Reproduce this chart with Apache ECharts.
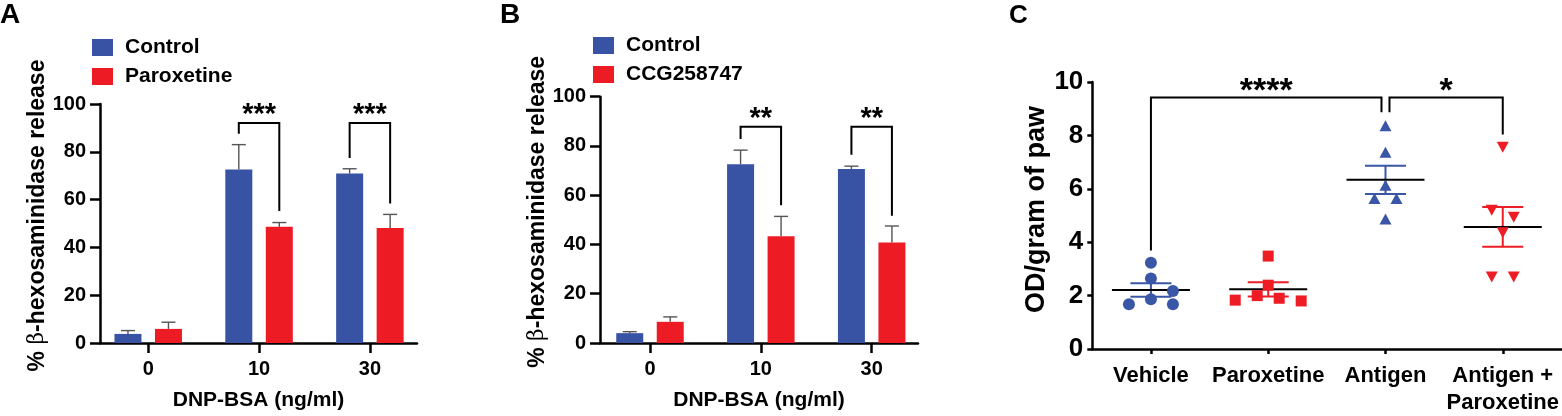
<!DOCTYPE html>
<html>
<head>
<meta charset="utf-8">
<script src="https://cdn.jsdelivr.net/npm/echarts@6/dist/echarts.min.js"></script>
<style>html,body{margin:0;padding:0;background:#fff}#c{width:1562px;height:416px}</style>
</head>
<body>
<div id="c"></div>
<script>
// ================= DATA =================
const doseCategories = ['0', '10', '30'];
const panelAControl = [3.8, 72.6, 70.9];
const panelAControlErr = [1.4, 10.4, 2.0];
const panelAParoxetine = [5.9, 48.6, 48.1];
const panelAParoxetineErr = [2.8, 1.8, 5.7];
const panelBControl = [4.0, 72.6, 70.6];
const panelBControlErr = [0.6, 5.7, 1.2];
const panelBCCG = [8.6, 43.3, 40.8];
const panelBCCGErr = [2.0, 8.1, 6.7];
// significance brackets: [dose index, control-end value, top value, treated-end value, label]
const panelABrackets = [[1, 87.6, 92.1, 55.2, '***'], [2, 77.4, 92.1, 58.4, '***']];
const panelBBrackets = [[1, 82.8, 87.8, 55.9, '**'], [2, 76.4, 87.8, 51.7, '**']];

const groupCategories = ['Vehicle', 'Paroxetine', 'Antigen', 'Antigen +\nParoxetine'];
const vehiclePoints = [3.23, 2.64, 2.17, 1.86, 1.68, 1.68];
const paroxetinePoints = [3.48, 2.39, 2.00, 1.90, 1.83, 1.80];
const antigenPoints = [8.36, 7.37, 6.13, 5.64, 5.64, 4.87];
const antigenParoxetinePoints = [7.56, 5.20, 4.93, 4.35, 2.70, 2.70];
// brackets C: [from group, from-end value, to group, to-end value, top value, label]
const panelCBrackets = [[0, 3.69, 2, 8.87, 9.42, '****'], [2, 8.87, 3, 8.03, 9.42, '*']];

// ================= STYLE / LAYOUT =================
const FONT = 'Liberation Sans, Arial, Helvetica, sans-serif';
const BLUE = '#3953A4', RED = '#ED1C24';
const BLUE_C = '#3A56A6', RED_C = '#EE1D25';
const BAR_W = 27, BAR_GAP = 13.5, BAR_OFFSET = (BAR_W + BAR_GAP) / 2;
const ERR_COLOR = '#555';
const AXIS_W = 2.5;

const gridA = {left: 100, top: 104, width: 317, height: 244.7};
const gridB = {left: 600, top: 96.7, width: 318, height: 251.6};
const gridC = {left: 1092.3, top: 82, width: 469.3, height: 269};
const C_PX_PER_UNIT = gridC.height / 10;
const C_BAND_PX = gridC.width / groupCategories.length;
const C_SLOT_PX = 22;

// ================= HELPERS =================
function meanSem(a) {
  const n = a.length;
  const m = a.reduce((s, v) => s + v, 0) / n;
  const sd = Math.sqrt(a.reduce((s, v) => s + (v - m) * (v - m), 0) / (n - 1));
  return [m, sd / Math.sqrt(n)];
}

// GraphPad-like horizontal spreading of overlapping points (beeswarm)
function swarmSlots(values) {
  const rowTol = 8, minDist = 12;
  const idx = values.map((v, i) => i).sort((a, b) => values[b] - values[a]);
  const ypx = values.map(v => -v * C_PX_PER_UNIT);
  const clusters = [];
  let cur = [idx[0]];
  for (let k = 1; k < idx.length; k++) {
    if (Math.abs(ypx[idx[k]] - ypx[idx[k - 1]]) < rowTol) cur.push(idx[k]);
    else { clusters.push(cur); cur = [idx[k]]; }
  }
  clusters.push(cur);
  const slots = new Array(values.length);
  const placed = [];
  clusters.filter(c => c.length > 1).forEach(c => {
    const order = c.length % 2 ? [0, -1, 1, -2, 2, -3, 3] : [-0.5, 0.5, -1.5, 1.5, -2.5, 2.5];
    c.forEach((i, k) => { slots[i] = order[k]; placed.push(i); });
  });
  clusters.filter(c => c.length === 1).forEach(c => {
    const i = c[0];
    const cands = [0, 1, -1, 2, -2];
    slots[i] = 0;
    for (const s of cands) {
      const ok = placed.every(j => Math.hypot((s - slots[j]) * C_SLOT_PX, ypx[i] - ypx[j]) >= minDist);
      if (ok) { slots[i] = s; break; }
    }
    placed.push(i);
  });
  return slots;
}

function errRender(offsetPx) {
  return function (params, api) {
    const x = api.value(0), v = api.value(1), e = api.value(2);
    const p0 = api.coord([x, v]);
    const p1 = api.coord([x, v + e]);
    const cx = p0[0] + offsetPx;
    const st = {stroke: ERR_COLOR, lineWidth: 1.4};
    return {type: 'group', children: [
      {type: 'line', shape: {x1: cx, y1: p0[1], x2: cx, y2: p1[1]}, style: st},
      {type: 'line', shape: {x1: cx - 7, y1: p1[1], x2: cx + 7, y2: p1[1]}, style: st}
    ]};
  };
}

function bracketRender(list) {
  return function (params, api) {
    const b = list[params.dataIndex];
    const c = api.coord([b[0], b[2]]);
    const l = api.coord([b[0], b[1]]);
    const r = api.coord([b[0], b[3]]);
    const xl = c[0] - BAR_OFFSET, xr = c[0] + BAR_OFFSET;
    return {type: 'group', children: [
      {type: 'polyline', shape: {points: [[xl, l[1]], [xl, c[1]], [xr, c[1]], [xr, r[1]]]},
       style: {stroke: '#000', lineWidth: 2, fill: null}},
      {type: 'text', style: {text: b[4], x: c[0], y: c[1] - 8, align: 'center', verticalAlign: 'middle',
       textAlign: 'center', textVerticalAlign: 'middle', font: 'bold 29px ' + FONT, fill: '#000'}}
    ]};
  };
}

function barXAxis(gridIndex, min, max) {
  return {
    type: 'value', gridIndex: gridIndex, min: min, max: max,
    splitLine: {show: false},
    axisLine: {show: true, onZero: false, lineStyle: {color: '#000', width: AXIS_W}},
    axisTick: {show: true, customValues: [0, 1, 2], length: 10, lineStyle: {color: '#000', width: AXIS_W}},
    axisLabel: {customValues: [0, 1, 2], formatter: v => doseCategories[Math.round(v)], margin: 16,
      color: '#000', fontFamily: FONT, fontWeight: 'bold', fontSize: 20},
    name: 'DNP-BSA (ng/ml)', nameLocation: 'middle', nameGap: 47,
    nameTextStyle: {color: '#000', fontFamily: FONT, fontWeight: 'bold', fontSize: 21}
  };
}
function barYAxis(gridIndex) {
  return {
    type: 'value', gridIndex: gridIndex, min: 0, max: 100, interval: 20,
    splitLine: {show: false},
    axisLine: {show: true, onZero: false, lineStyle: {color: '#000', width: AXIS_W}},
    axisTick: {show: true, length: 10, lineStyle: {color: '#000', width: AXIS_W}},
    axisLabel: {margin: 14, color: '#000', fontFamily: FONT, fontWeight: 'bold', fontSize: 20},
    name: '{n|% }{g|β}{n|-hexosaminidase release}', nameLocation: 'middle', nameGap: 48, nameRotate: 90,
    nameTextStyle: {padding: [0, 0, 0, 16], rich: {
      n: {color: '#000', fontFamily: FONT, fontWeight: 'bold', fontSize: 23},
      g: {color: '#000', fontFamily: 'DejaVu Serif, serif', fontWeight: 'normal', fontSize: 22}
    }}
  };
}

function barPanel(axisIdx, ctrl, ctrlErr, trt, trtErr, trtName, brackets) {
  return [
    {type: 'bar', name: 'Control', xAxisIndex: axisIdx, yAxisIndex: axisIdx, barWidth: BAR_W,
     barGap: (BAR_GAP / BAR_W * 100) + '%', itemStyle: {color: BLUE}, data: ctrl.map((v, i) => [i, v]), z: 2},
    {type: 'bar', name: trtName, xAxisIndex: axisIdx, yAxisIndex: axisIdx, barWidth: BAR_W,
     itemStyle: {color: RED}, data: trt.map((v, i) => [i, v]), z: 2},
    {type: 'custom', xAxisIndex: axisIdx, yAxisIndex: axisIdx, renderItem: errRender(-BAR_OFFSET),
     data: ctrl.map((v, i) => [i, v, ctrlErr[i]]), z: 3, silent: true},
    {type: 'custom', xAxisIndex: axisIdx, yAxisIndex: axisIdx, renderItem: errRender(BAR_OFFSET),
     data: trt.map((v, i) => [i, v, trtErr[i]]), z: 3, silent: true},
    {type: 'custom', xAxisIndex: axisIdx, yAxisIndex: axisIdx, renderItem: bracketRender(brackets),
     data: brackets.map(b => [b[0], b[2]]), z: 4, silent: true}
  ];
}

// ---- panel C series ----
const groups = [
  {pts: vehiclePoints, color: BLUE_C, symbol: 'circle', size: 12, rot: 0},
  {pts: paroxetinePoints, color: RED_C, symbol: 'rect', size: 11, rot: 0},
  {pts: antigenPoints, color: BLUE_C, symbol: 'triangle', size: [12, 11], rot: 0},
  {pts: antigenParoxetinePoints, color: RED_C, symbol: 'triangle', size: [12, 11], rot: 180}
];
const cScatter = groups.map((g, gi) => {
  const slots = swarmSlots(g.pts);
  return {
    type: 'scatter', xAxisIndex: 2, yAxisIndex: 2, symbol: g.symbol, symbolSize: g.size, symbolRotate: g.rot,
    itemStyle: {color: g.color, opacity: 1}, z: 5, silent: true,
    data: g.pts.map((v, i) => [gi + slots[i] * C_SLOT_PX / C_BAND_PX, v])
  };
});
const cStats = groups.map((g, gi) => { const ms = meanSem(g.pts); return [gi, ms[0], ms[1]]; });
const cMean = {
  type: 'custom', xAxisIndex: 2, yAxisIndex: 2, z: 4, silent: true, data: cStats,
  renderItem: function (params, api) {
    const gi = api.value(0), m = api.value(1), s = api.value(2);
    const col = groups[params.dataIndex].color;
    const pm = api.coord([gi, m]), pu = api.coord([gi, m + s]), pl = api.coord([gi, m - s]);
    const cs = {stroke: col, lineWidth: 2};
    return {type: 'group', children: [
      {type: 'line', shape: {x1: pm[0], y1: pu[1], x2: pm[0], y2: pl[1]}, style: cs},
      {type: 'line', shape: {x1: pm[0] - 20.5, y1: pu[1], x2: pm[0] + 20.5, y2: pu[1]}, style: cs},
      {type: 'line', shape: {x1: pm[0] - 20.5, y1: pl[1], x2: pm[0] + 20.5, y2: pl[1]}, style: cs},
      {type: 'line', shape: {x1: pm[0] - 39, y1: pm[1], x2: pm[0] + 39, y2: pm[1]}, style: {stroke: '#000', lineWidth: 2}, z2: 10}
    ]};
  }
};
// ends shared by two brackets are inset so the brackets do not touch
const bracketEndCount = {};
panelCBrackets.forEach(b => { bracketEndCount[b[0]] = (bracketEndCount[b[0]] || 0) + 1; bracketEndCount[b[2]] = (bracketEndCount[b[2]] || 0) + 1; });
const cBrackets = {
  type: 'custom', xAxisIndex: 2, yAxisIndex: 2, z: 6, silent: true,
  data: panelCBrackets.map(b => [b[0], b[4]]),
  renderItem: function (params, api) {
    const b = panelCBrackets[params.dataIndex];
    const a = api.coord([b[0], b[1]]), t = api.coord([b[2], b[3]]);
    const top = api.coord([b[0], b[4]])[1];
    const xa = a[0] + (bracketEndCount[b[0]] > 1 ? 4 : 0);
    const xb = t[0] - (bracketEndCount[b[2]] > 1 ? 4 : 0);
    return {type: 'group', children: [
      {type: 'polyline', shape: {points: [[xa, a[1]], [xa, top], [xb, top], [xb, t[1]]]},
       style: {stroke: '#000', lineWidth: 2, fill: null}},
      {type: 'text', style: {text: b[5], x: (xa + xb) / 2, y: top - 6, align: 'center', verticalAlign: 'middle',
       textAlign: 'center', textVerticalAlign: 'middle', font: 'bold 34px ' + FONT, fill: '#000'}}
    ]};
  }
};

const legendText = {color: '#000', fontFamily: FONT, fontWeight: 'bold', fontSize: 21, padding: [0, 0, 0, 7]};

const option = {
  animation: false,
  backgroundColor: '#fff',
  title: [
    {text: 'A', left: 0, top: 1, padding: 0, textStyle: {color: '#000', fontFamily: FONT, fontWeight: 'bold', fontSize: 28}},
    {text: 'B', left: 500, top: 1, padding: 0, textStyle: {color: '#000', fontFamily: FONT, fontWeight: 'bold', fontSize: 28}},
    {text: 'C', left: 1009, top: 3, padding: 0, textStyle: {color: '#000', fontFamily: FONT, fontWeight: 'bold', fontSize: 26}}
  ],
  legend: [
    {data: ['Control', 'Paroxetine'], orient: 'vertical', left: 92, top: 37, padding: 0, itemGap: 8,
     itemWidth: 21, itemHeight: 17, icon: 'rect', selectedMode: false, textStyle: legendText},
    {data: ['Control', 'CCG258747'], orient: 'vertical', left: 593, top: 35, padding: 0, itemGap: 8,
     itemWidth: 21, itemHeight: 17, icon: 'rect', selectedMode: false, textStyle: legendText}
  ],
  grid: [gridA, gridB, gridC],
  xAxis: [
    barXAxis(0, -0.435, 2.425),
    barXAxis(1, -0.451, 2.418),
    {
      type: 'value', gridIndex: 2, min: -0.5, max: 3.5,
      splitLine: {show: false},
      axisLine: {show: true, onZero: false, lineStyle: {color: '#000', width: AXIS_W}},
      axisTick: {show: true, customValues: [0, 1, 2, 3], length: 5, lineStyle: {color: '#000', width: AXIS_W}},
      axisLabel: {customValues: [0, 1, 2, 3], formatter: v => groupCategories[Math.round(v)], margin: 13,
        color: '#000', fontFamily: FONT, fontWeight: 'bold', fontSize: 22, lineHeight: 27}
    }
  ],
  yAxis: [
    barYAxis(0),
    barYAxis(1),
    {
      type: 'value', gridIndex: 2, min: 0, max: 10, interval: 2,
      splitLine: {show: false},
      axisLine: {show: true, onZero: false, lineStyle: {color: '#000', width: AXIS_W}},
      axisTick: {show: true, length: 5, lineStyle: {color: '#000', width: AXIS_W}},
      axisLabel: {margin: 9, color: '#000', fontFamily: FONT, fontWeight: 'bold', fontSize: 26},
      name: 'OD/gram of paw', nameLocation: 'middle', nameGap: 41, nameRotate: 90,
      nameTextStyle: {color: '#000', fontFamily: FONT, fontWeight: 'bold', fontSize: 27, padding: [0, 0, 0, 12]}
    }
  ],
  series: [].concat(
    barPanel(0, panelAControl, panelAControlErr, panelAParoxetine, panelAParoxetineErr, 'Paroxetine', panelABrackets),
    barPanel(1, panelBControl, panelBControlErr, panelBCCG, panelBCCGErr, 'CCG258747', panelBBrackets),
    cScatter, [cMean, cBrackets]
  )
};

const chart = echarts.init(document.getElementById('c'), null, {renderer: 'canvas'});
chart.setOption(option);
</script>
</body>
</html>
